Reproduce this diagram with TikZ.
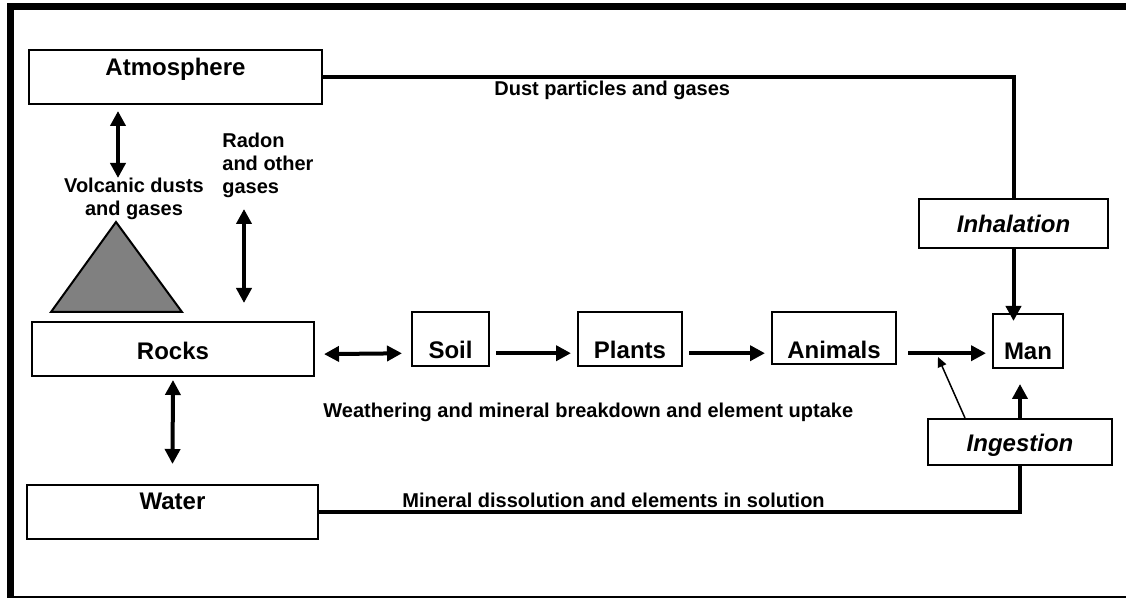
\documentclass[tikz,border=0pt]{standalone}
\usepackage{fontspec}
\setmainfont{Liberation Sans}
\usetikzlibrary{arrows.meta}
\begin{document}
\begin{tikzpicture}[x=0.5pt,y=-0.5pt,>={Triangle[length=7.5pt,width=7.5pt]},
	box/.style={draw,line width=1pt,inner sep=0pt,font=\fontsize{12}{14}\selectfont\bfseries},
	unit/.style={box,text height=23pt,text depth=4pt},
	route/.style={box,font=\fontsize{12}{14}\selectfont\bfseries\itshape},
	conn/.style={line width=2pt},
	flow/.style={conn,->,shorten <=3pt,shorten >=3pt},
	lbl/.style={inner sep=0pt,font=\fontsize{10}{11.5}\selectfont\bfseries}]
			\useasboundingbox (0,0) rectangle (1126,598);
			\draw[line width=3.5pt] (1126,7) -- (10.5,7) -- (10.5,598);
			\draw[line width=0.75pt] (10.5,597) -- (1126,597);
			\node[box,minimum width=146.5pt,text height=12.75pt,text depth=14.25pt] (atm) at (175.5,77) {Atmosphere};
			\node[box,minimum width=141pt,text height=18.75pt,text depth=8.25pt] (rocks) at (173,349) {Rocks};
			\node[box,minimum width=145.5pt,text height=12.25pt,text depth=14.75pt] (water) at (172.5,512) {Water};
			\node[unit,minimum width=38.5pt] (soil) at (450.5,339.5) {Soil};
			\node[unit,minimum width=52pt] (plants) at (630,339.5) {Plants};
			\node[unit,minimum width=62pt,text depth=3pt] (animals) at (834,338.5) {Animals};
			\node[unit,minimum width=35pt] (man) at (1028,341) {Man};
			\node[route,minimum width=94.5pt,text height=16.75pt,text depth=7.75pt] (inhal) at (1013.5,223.5) {Inhalation};
			\node[route,minimum width=92pt,text height=16.25pt,text depth=6.75pt] (ingest) at (1020,442) {Ingestion};
			\node[lbl,anchor=base west] (dust) at (494,96) {Dust particles and gases};
			\node[lbl,anchor=base west] (weath) at (323,418) {Weathering and mineral breakdown and element uptake};
			\node[lbl,anchor=base west] (minrl) at (402,508) {Mineral dissolution and elements in solution};
			\node[lbl,align=center] (volc) at (134,199) {Volcanic dusts\\and gases};
			\node[lbl,align=left,anchor=west] (radon) at (222,165) {Radon\\and other\\gases};
			\coordinate (join) at (938,357);
			\filldraw[fill=black!50,line width=1pt] (116,222) -- (51,312) -- (182,312) -- cycle;
			\draw[conn] (atm.east) -| (inhal.north);
			\draw[conn,->,shorten >=-4pt] (inhal.south) -- (inhal.south |- man.north);
			\draw[conn] (water.east) -| (ingest.south);
			\draw[conn,->] (ingest.north) -- ([yshift=-7.5pt]ingest.north |- man.south);
			\draw[->,line width=0.75pt,>={Triangle[length=5pt,width=4.5pt]}] ([xshift=19pt]ingest.north west) -- (join);
			\draw[conn,<->,shorten <=4.5pt,shorten >=4.5pt] (rocks.mid east) -- (soil.mid west);
			\draw[flow] (soil.mid east) -- (plants.mid west);
			\draw[flow] (plants.mid east) -- (plants.mid east -| animals.west);
			\draw[flow,shorten <=5.5pt] (plants.mid east -| animals.east) -- (plants.mid east -| man.west);
			\draw[conn,<->] ([xshift=45pt,yshift=-3pt]atm.south west) -- ++(0,67);
			\draw[conn,<->] ([xshift=106.5pt,yshift=9pt]rocks.north west) -- ++(0,-94);
			\draw[conn,<->] ([yshift=-1.5pt]rocks.south) -- ([yshift=10pt]water.north);
\end{tikzpicture}
\end{document}
